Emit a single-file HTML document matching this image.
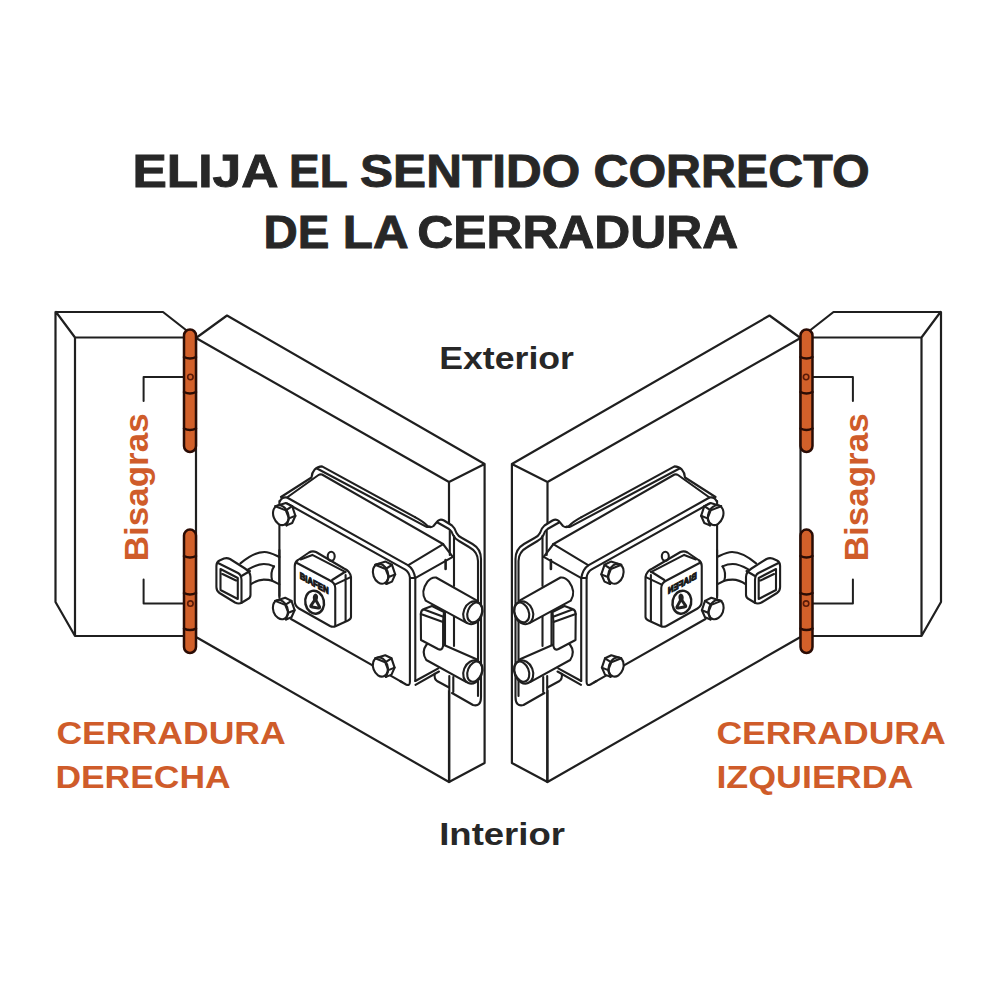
<!DOCTYPE html>
<html><head><meta charset="utf-8">
<style>
html,body{margin:0;padding:0;background:#fff;}
svg{display:block;}
text{font-family:"Liberation Sans", sans-serif;font-weight:bold;}
</style></head>
<body>
<svg width="1000" height="1000" viewBox="0 0 1000 1000">
<rect width="1000" height="1000" fill="#fff"/>
<defs>
<g id="side" fill="none" stroke="#1f1f1f" stroke-width="2.2" stroke-linejoin="round" stroke-linecap="round">
  <!-- frame -->
  <path d="M56 312 L163 312 L186 330 M56 312 L75 337.5 L184 337.5 M55.5 312 L55.5 602 L75 636 L184 636 M75 337.5 L75 636"/>
  <!-- door -->
  <path d="M196 338 L227 315.5 L484.6 464 L449 482 L196 338 M449 482 L449 782 L196 637 M484.6 464 L484.6 763 L449 782 M196 338 L196 637"/>
  <!-- leader lines -->
  <path stroke-width="2" d="M143.6 401 L143.6 377 L187 377 M143.6 579.6 L143.6 603.6 L187 603.6"/>
  <!-- hinges -->
  <g stroke="#2a0c05" stroke-width="2.5">
    <rect x="184" y="329.5" width="12" height="122.5" rx="6" fill="#d2602a"/>
    <path d="M184 357 Q190 360 196 357 M184 392 Q190 395 196 392 M184 428.5 Q190 431.5 196 428.5"/>
    <circle cx="190.4" cy="377" r="2.7" stroke="#5a1a08" stroke-width="1.6"/>
    <rect x="184" y="529.6" width="12" height="123.4" rx="6" fill="#d2602a"/>
    <path d="M184 556 Q190 559 196 556 M184 593 Q190 596 196 593 M184 628.6 Q190 631.6 196 628.6"/>
    <circle cx="190.4" cy="603.6" r="2.7" stroke="#5a1a08" stroke-width="1.6"/>
  </g>
  <!-- lock -->
  <g stroke-width="2.1" fill="none">
    <!-- plate on door side (white fill) -->
    <path fill="#fff" stroke="none" d="M437 521 L452 525 L472 544 Q481 549 481 560 L481 698 Q481 707 473 705 L452 693 L436 681 L436 560 Z"/>
    <!-- lock body fill -->
    <path fill="#fff" stroke="none" d="M279.4 501 L311 477 Q316 466 324 466.5 L425 523 Q432 531 437 521 L452 526 L454 560 L454 666 L438 669 L414 682 Q411 687 404 685 L291 619 L279.4 600 Z"/>
    <!-- plate outline (outer) -->
    <path d="M415 517.2 Q423 521.5 427 525.5 Q430 528.5 433.5 526 Q436 523 438 520.8 Q440.5 518.5 444 520.5 L452 525.5 Q455 528 456.5 533 Q458 536 462 538 L472.5 544 Q481 549 481 559 L481 697 Q481 707 473 705 L452 693"/>
    <!-- plate inner -->
    <path d="M437.5 522.5 L449 529 Q452 531 453 535 Q455 539 459 541 L469 547 Q478 552 478 561 L478 696"/>
    <!-- strip verticals -->
    <path d="M449.8 530 L449.8 555 M454 536 L454 586 M445 612 L445 648 M454 612 L454 646 M453.3 677 L453.3 692 M449.3 676 L449.3 782"/>
    <path d="M434.7 673.7 Q434 679 437 681 L449 687.5"/>
    <!-- rim lines of top face -->
    <path d="M281 497 L311.5 477.5 C312 471 316 466.5 322 466.4 L415 517.2"/>
    <path d="M317 468.5 L426 526.6 Q428 527.5 430 526.5"/>
    <path d="M287 497.5 L318.5 475 Q320 474 322 474.5 L443 544"/>
    <path d="M443 544 L452.8 556.8"/>
    <!-- front top edge double -->
    <path d="M280 501 Q282 496.5 287 497.5 L407.8 565.2 Q413.8 569 415.3 578.4 L415.3 681"/>
    <path d="M287 503.5 L404.8 569.4 Q409 572 409.9 577.2 L409.9 681.5 Q410 686.5 406 684.5 L400 681"/>
    <path d="M410 578 L415 578"/>
    <!-- side face top -->
    <path d="M408.4 565.2 L443.2 544.2 M415.6 577.8 L452.8 556.8"/>
    <path d="M445.6 560 L445.6 569" stroke-width="2.6"/>
    <!-- front face left edge -->
    <path d="M279.4 501 L279.4 598"/>
    <!-- side face bottom double -->
    <path d="M415.3 681 L438.3 668.3 M415.5 684.8 L439 671.5"/>
    <!-- lower bolt cylinder -->
    <path fill="#fff" d="M436 641.5 L476.5 659.3 L466 681.8 L426.3 660 Q421 652 426.3 645 Q430 641 436 641.5 Z"/>
    <ellipse cx="472.8" cy="672" rx="9.2" ry="11.9" fill="#fff" transform="rotate(22 472.8 672)"/>
    <ellipse cx="474.8" cy="671.6" rx="7" ry="10.5" transform="rotate(22 474.8 671.6)"/>
    <!-- latch block -->
    <path fill="#fff" d="M420.8 614 Q421 610 424 609 L432 606 L444 612 L443.1 621 L443.1 646 Q442 651 438 649 L421 640 Z"/>
    <path d="M420.8 614 L443 622 M424 609.5 L444 617"/>
    <!-- upper bolt cylinder -->
    <path fill="#fff" d="M436 577.5 L477 600.6 L467.1 623.1 L425.7 600.6 Q420 592 427.5 581.7 Q431 577 436 577.5 Z"/>
    <ellipse cx="472.8" cy="612.8" rx="9.2" ry="11.7" fill="#fff" transform="rotate(22 472.8 612.8)"/>
    <ellipse cx="474.8" cy="612.4" rx="7" ry="10.3" transform="rotate(22 474.8 612.4)"/>
    <!-- bottom edge of lock -->
    <path d="M291 619 L402 682.2"/>
    <!-- bolts -->
    <polygon fill="#fff" points="275.4,506.2 285.8,503.0 292.2,506.2 295.4,515.8 292.2,523.0 286.6,525.4"/>
    <ellipse fill="#fff" cx="280.8" cy="515.2" rx="7.4" ry="10.2" transform="rotate(-20 280.8 515.2)"/>
    <path d="M275.4 506.2 L285.8 510.4 L292.2 506.2 M285.8 510.4 L289.0 518.4 L295.4 515.8 M289.0 518.4 L286.6 525.4"/>
    <polygon fill="#fff" points="375.2,564.8 385.6,561.6 392.0,564.8 395.2,574.4 392.0,581.6 386.4,584.0"/>
    <ellipse fill="#fff" cx="380.6" cy="573.8" rx="7.4" ry="10.2" transform="rotate(-20 380.6 573.8)"/>
    <path d="M375.2 564.8 L385.6 569.0 L392.0 564.8 M385.6 569.0 L388.8 577.0 L395.2 574.4 M388.8 577.0 L386.4 584.0"/>
    <polygon fill="#fff" points="275.2,600.9 285.2,597.8 291.5,600.9 294.6,610.2 291.5,617.2 286.0,619.5"/>
    <ellipse fill="#fff" cx="280.4" cy="609.6" rx="7.2" ry="9.9" transform="rotate(-20 280.4 609.6)"/>
    <path d="M275.2 600.9 L285.2 604.9 L291.5 600.9 M285.2 604.9 L288.4 612.7 L294.6 610.2 M288.4 612.7 L286.0 619.5"/>
    <polygon fill="#fff" points="375.2,658.3 385.2,655.2 391.5,658.3 394.6,667.6 391.5,674.6 386.0,676.9"/>
    <ellipse fill="#fff" cx="380.4" cy="667.0" rx="7.2" ry="9.9" transform="rotate(-20 380.4 667.0)"/>
    <path d="M375.2 658.3 L385.2 662.3 L391.5 658.3 M385.2 662.3 L388.4 670.1 L394.6 667.6 M388.4 670.1 L386.0 676.9"/>
    <!-- key cylinder -->
    <path fill="#fff" d="M294.75 566 Q294.75 562 298 560 L309 552.5 Q312.3 550.5 316 552 L344 568.5 Q350 571 351 577 L351 617 Q351 619 348 620.5 L336 626 Q333 627.5 330 626 L299 608.5 Q294.75 606 294.75 601 Z"/>
    <path d="M296 562.5 L330 580.5 Q335.25 583 335.25 588 L335.25 626"/>
    <path d="M300.6 559.4 L312.3 554.9 L345.6 572.1 M332.1 580 L345.6 571.5 M334.8 584.6 L350.1 577.4 M345.6 575 L345.6 620.5"/>
    <ellipse cx="314.6" cy="602.2" rx="9.3" ry="11.6" stroke-width="2.5" transform="rotate(-12 314.6 602.2)"/>
    <path fill="#222" stroke="none" d="M315.8 593.5 Q318.5 594.5 318 598 L317.5 600 L321 606.5 Q321.5 610 318 609.5 L312 608.5 Q308.5 608 309.5 605 L313 600 L312.8 597.5 Q313 594 315.8 593.5 Z"/>
    <path fill="#fff" stroke="none" d="M312.8 605.5 L315.2 602 L317.8 606.5 Z"/>
    <ellipse cx="331.2" cy="556.3" rx="3.5" ry="4.6"/>
    <text transform="matrix(1,0.545,0,1,299.7,578.6)" font-size="9.6" fill="#1a1a1a" stroke="#1a1a1a" stroke-width="1.1" textLength="29" lengthAdjust="spacingAndGlyphs">BIAFEN</text>
    <!-- handle arm -->
    <path fill="#fff" stroke="none" d="M240.4 563.4 C248 557 256 552 264.4 552 C270 552 274 554.5 278 557 L278 584 L272.2 580.8 C268 579.5 266 579.6 263.8 579.6 C258 579.6 254 582 250.6 584.4 Z"/>
    <path d="M240.4 563.4 C248 557 256 552 264.4 552 C270 552 274 554.5 279.4 557"/>
    <path d="M248.2 569.4 C254 566 259 564 263.8 564 C268 564 271 565 274 566.4"/>
    <path d="M250.6 584.4 C254 582 258 579.6 263.8 579.6 C267 579.6 270 580 272.2 580.8 L279.4 584.4"/>
    <path d="M274 566.4 C271.5 570 271 576 272.2 580.8"/>
    <path d="M279.4 550 L279.4 596"/>
    <!-- knob -->
    <path fill="#fff" d="M216.4 566 Q216.4 562 219.5 560.5 L224 558.5 Q227 557.5 230 559 L245 568.5 Q250.5 572 250.5 577 L250.5 595 Q250.5 598 247 599.5 L242 602.5 Q239 604.5 235 602.5 L219.5 593 Q216.4 591 216.4 587 Z"/>
    <path d="M218 563 L238 573 Q241.5 575 241.5 580 L241.5 603"/>
    <path d="M220.5 569 L237.8 578 L237.8 599 L220.5 590 Z M222.5 574 L236 580.5"/>
    <path d="M241.5 576 L250 571"/>
  </g>
</g>
</g>
</defs>
<use href="#side"/>
<use href="#side" transform="translate(996.5,0) scale(-1,1)"/>

<!-- Title -->
<text x="132.4" y="187.3" font-size="46.3" fill="#272727" stroke="#272727" stroke-width="0.9" textLength="146.1" lengthAdjust="spacingAndGlyphs">ELIJA</text>
<text x="289.1" y="187.3" font-size="46.3" fill="#272727" stroke="#272727" stroke-width="0.9" textLength="58.7" lengthAdjust="spacingAndGlyphs">EL</text>
<text x="360.1" y="187.3" font-size="46.3" fill="#272727" stroke="#272727" stroke-width="0.9" textLength="220.1" lengthAdjust="spacingAndGlyphs">SENTIDO</text>
<text x="593.5" y="187.3" font-size="46.3" fill="#272727" stroke="#272727" stroke-width="0.9" textLength="276.1" lengthAdjust="spacingAndGlyphs">CORRECTO</text>
<text x="263.4" y="247.8" font-size="46.3" fill="#272727" stroke="#272727" stroke-width="0.9" textLength="65.9" lengthAdjust="spacingAndGlyphs">DE</text>
<text x="342.8" y="247.8" font-size="46.3" fill="#272727" stroke="#272727" stroke-width="0.9" textLength="65.9" lengthAdjust="spacingAndGlyphs">LA</text>
<text x="417.2" y="247.8" font-size="46.3" fill="#272727" stroke="#272727" stroke-width="0.9" textLength="321.1" lengthAdjust="spacingAndGlyphs">CERRADURA</text>
<!-- Exterior / Interior -->
<text x="439.2" y="368.7" font-size="31.5" fill="#272727" stroke="#272727" stroke-width="0" textLength="134.8" lengthAdjust="spacingAndGlyphs">Exterior</text>
<text x="439.2" y="845" font-size="31.5" fill="#272727" stroke="#272727" stroke-width="0" textLength="125.8" lengthAdjust="spacingAndGlyphs">Interior</text>
<!-- orange labels -->
<text x="56.4" y="744.2" font-size="31.5" fill="#cf5c2a" stroke="#cf5c2a" stroke-width="0" textLength="229.4" lengthAdjust="spacingAndGlyphs">CERRADURA</text>
<text x="55.4" y="787.9" font-size="31.5" fill="#cf5c2a" stroke="#cf5c2a" stroke-width="0" textLength="175.2" lengthAdjust="spacingAndGlyphs">DERECHA</text>
<text x="716.4" y="744.2" font-size="31.5" fill="#cf5c2a" stroke="#cf5c2a" stroke-width="0" textLength="229.4" lengthAdjust="spacingAndGlyphs">CERRADURA</text>
<text x="716.4" y="787.9" font-size="31.5" fill="#cf5c2a" stroke="#cf5c2a" stroke-width="0" textLength="197.0" lengthAdjust="spacingAndGlyphs">IZQUIERDA</text>
<g transform="translate(148.2,559.3) rotate(-90)"><text x="-2.0" y="0" font-size="33" fill="#cf5c2a" stroke="#cf5c2a" stroke-width="0" textLength="148.0" lengthAdjust="spacingAndGlyphs">Bisagras</text></g>
<g transform="translate(868.2,559.3) rotate(-90)"><text x="-2.0" y="0" font-size="33" fill="#cf5c2a" stroke="#cf5c2a" stroke-width="0" textLength="148.0" lengthAdjust="spacingAndGlyphs">Bisagras</text></g>
</svg>
</body></html>
